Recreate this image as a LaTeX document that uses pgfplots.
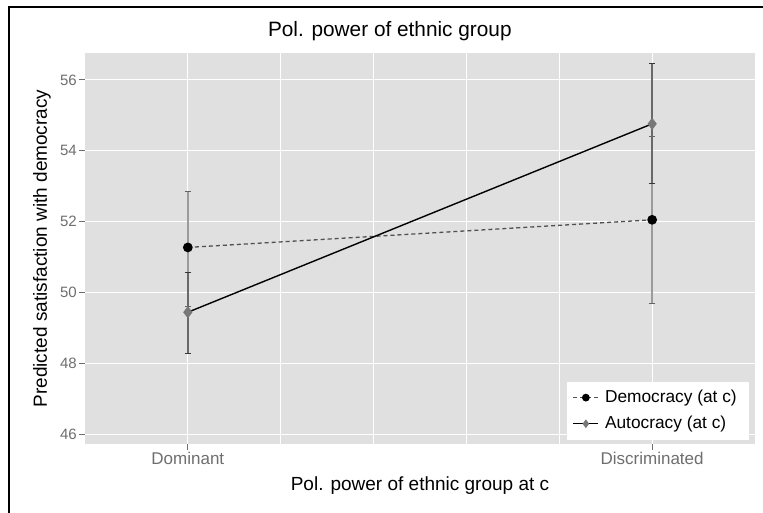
\documentclass[border=0pt]{standalone}
\usepackage{pgfplots}
\pgfplotsset{compat=1.18}
\usepackage{fontspec}
\setmainfont{Liberation Sans}
\definecolor{panel}{RGB}{224,224,224}
\definecolor{ticktext}{RGB}{110,110,110}
\definecolor{demerr}{RGB}{155,155,155}
\definecolor{demcap}{RGB}{100,100,100}
\definecolor{auterr}{RGB}{105,105,105}
\definecolor{autcap}{RGB}{55,55,55}
\definecolor{demline}{RGB}{80,80,80}
\definecolor{autmark}{RGB}{120,120,120}
\pgfplotsset{every axis legend/.style={fill=white, draw=none, draw opacity=0,
    at={(0.991,0.0102)}, anchor=south east, cells={anchor=west},
    font=\fontsize{17.3}{20}\selectfont,
    inner xsep=6pt, inner ysep=4pt, row sep=2pt,
    /tikz/every even column/.append style={column sep=5pt}}}
\begin{document}
\begin{tikzpicture}[x=1pt,y=1pt]
\useasboundingbox (0,0) rectangle (763,513);
\draw[line width=1.6pt,black] (9,-2) -- (9,506) -- (765,506);
\begin{axis}[
  at={(85pt,69pt)}, anchor=south west,
  scale only axis, width=670pt, height=391pt,
  xmin=-0.2215, xmax=1.2215, ymin=45.72, ymax=56.76,
  xtick={0,1}, xticklabels={Dominant,Discriminated},
  minor xtick={0.2,0.4,0.6,0.8},
  ytick={46,48,50,52,54,56},
  xmajorgrids, xminorgrids, ymajorgrids,
  grid style={white, line width=1.1pt},
  minor grid style={white, line width=1.1pt},
  axis background/.style={fill=panel},
  axis line style={draw=none},
  tick align=outside, major tick length=6pt, minor tick length=0pt,
  tick style={color=ticktext, line width=0.9pt},
  xtick pos=bottom, ytick pos=left,
  /pgf/number format/assume math mode=true,
  ticklabel style={font=\fontsize{17}{19}\selectfont, text=ticktext},
  yticklabel style={font=\fontsize{15}{17}\selectfont, inner sep=2pt},
  xticklabel style={inner sep=2pt},
  title={Pol. power of ethnic group},
  title style={at={(axis description cs:0.455,1.041)}, anchor=center, font=\fontsize{20.8}{24}\selectfont},
  xlabel={Pol. power of ethnic group at c},
  xlabel style={at={(axis description cs:0.5,-0.107)}, anchor=center, font=\fontsize{19}{22}\selectfont},
  ylabel={Predicted satisfaction with democracy},
  ylabel style={at={(axis description cs:-0.0642,0.5)}, anchor=center, rotate=0, font=\fontsize{19}{22}\selectfont},
  legend image code/.code={\draw[mark repeat=2,mark phase=2,#1, draw opacity=1, mark size=3.2pt] plot coordinates {(0pt,0pt) (12.5pt,0pt) (25pt,0pt)};},
]
% error bars: Democracy
\addplot[forget plot, only marks, mark=none,
  error bars/.cd, y dir=both, y explicit,
  error bar style={color=demerr, line width=1.5pt},
  error mark=|, error mark options={color=demcap, line width=1pt, mark size=3.2pt}]
  coordinates {(0,51.27) += (0,1.58) -= (0,1.67)
               (1,52.05) += (0,2.36) -= (0,2.37)};
% error bars: Autocracy
\addplot[forget plot, only marks, mark=none,
  error bars/.cd, y dir=both, y explicit,
  error bar style={color=auterr, line width=1.5pt},
  error mark=|, error mark options={color=autcap, line width=1pt, mark size=3.2pt}]
  coordinates {(0,49.44) += (0,1.12) -= (0,1.16)
               (1,54.76) += (0,1.69) -= (0,1.69)};
% lines and points
\addplot[draw=demline, line width=1.3pt, dash pattern=on 4pt off 3pt,
  mark=*, mark size=4.2pt, mark options={solid, fill=black, draw=black}]
  coordinates {(0,51.27) (1,52.05)};
\addlegendentry{Democracy (at c)\hspace{7pt}}
\addplot[draw=black, line width=1.4pt,
  mark=diamond*, mark size=5pt, mark options={fill=autmark, draw=autmark}]
  coordinates {(0,49.44) (1,54.76)};
\addlegendentry{Autocracy (at c)}
\end{axis}
\end{tikzpicture}
\end{document}
